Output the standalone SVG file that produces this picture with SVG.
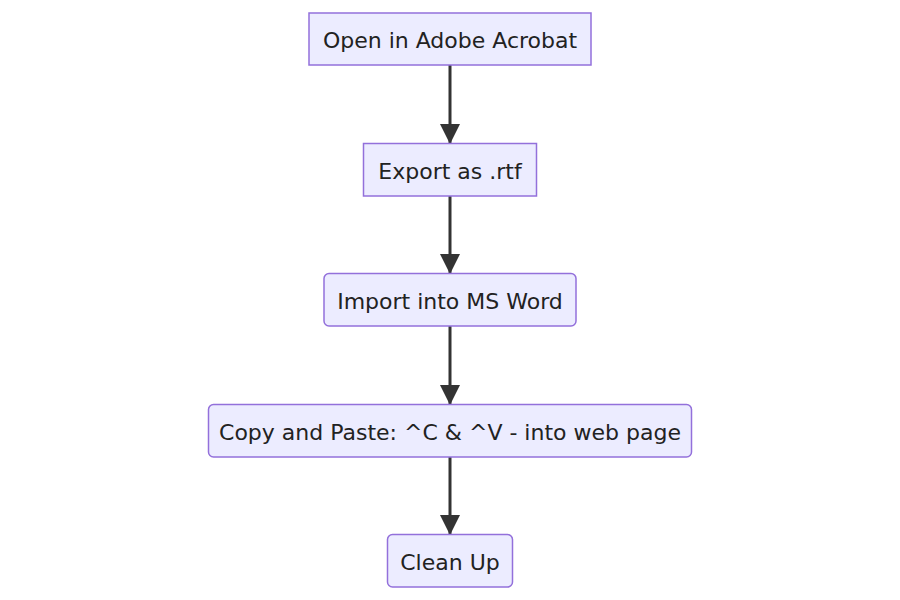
<svg xmlns="http://www.w3.org/2000/svg" width="900" height="600" viewBox="0 0 900 600">
<style>
.node rect{fill:#ECECFF;stroke:#9370DB;stroke-width:1.5}
.node text{font-family:'DejaVu Sans',sans-serif;font-size:22px;fill:#222;text-anchor:middle}
.edge{stroke:#333;stroke-width:3;fill:none}
</style>
<defs>
<marker id="arrow" markerUnits="userSpaceOnUse" markerWidth="20" markerHeight="20" refX="19" refY="10" orient="auto" viewBox="0 0 20 20">
<path d="M0,0 L20,10 L0,20 z" fill="#333"/>
</marker>
</defs>
<rect width="900" height="600" fill="#fff"/>
<g id="edges">
<line class="edge" x1="450" y1="65" x2="450" y2="143" marker-end="url(#arrow)"/>
<line class="edge" x1="450" y1="196" x2="450" y2="273" marker-end="url(#arrow)"/>
<line class="edge" x1="450" y1="326" x2="450" y2="404" marker-end="url(#arrow)"/>
<line class="edge" x1="450" y1="457" x2="450" y2="534" marker-end="url(#arrow)"/>
</g>
<g id="n1" class="node"><rect x="309" y="13" width="282" height="52"/><text x="450" y="47.5">Open in Adobe Acrobat</text></g>
<g id="n2" class="node"><rect x="363.5" y="143.5" width="173" height="52.5"/><text x="450" y="178.5">Export as .rtf</text></g>
<g id="n3" class="node"><rect x="324" y="273.5" width="252" height="52.5" rx="5" ry="5"/><text x="450" y="308.5">Import into MS Word</text></g>
<g id="n4" class="node"><rect x="208.5" y="404.5" width="483" height="52.5" rx="5" ry="5"/><text x="450" y="439.5">Copy and Paste: ^C &amp; ^V - into web page</text></g>
<g id="n5" class="node"><rect x="387.5" y="534.5" width="125" height="52.5" rx="5" ry="5"/><text x="450" y="570">Clean Up</text></g>
</svg>
